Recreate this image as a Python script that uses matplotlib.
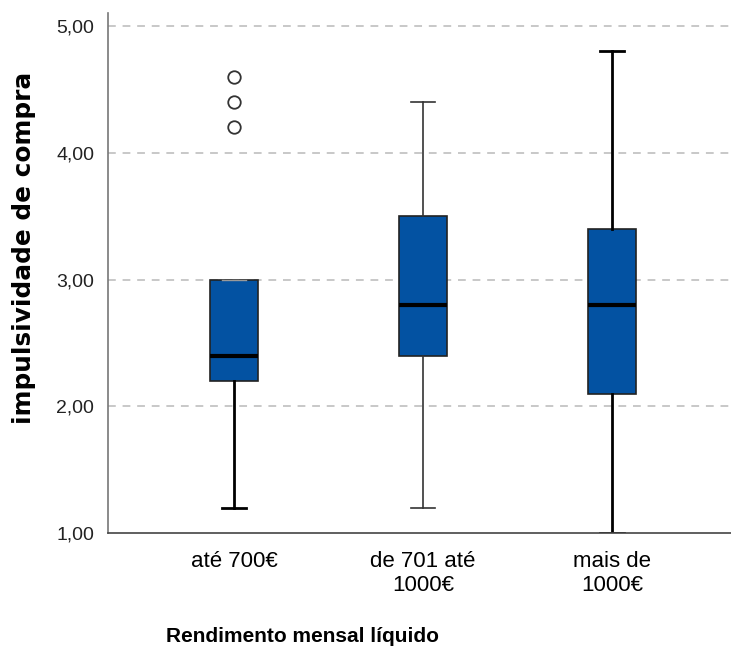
import matplotlib
matplotlib.use("Agg")
import matplotlib.pyplot as plt

categories = ["até 700€", "de 701 até\n1000€", "mais de\n1000€"]
q1 = [2.2, 2.4, 2.1]
medians = [2.4, 2.8, 2.8]
q3 = [3.0, 3.5, 3.4]
whisker_low = [1.2, 1.2, 1.0]
whisker_high = [3.0, 4.4, 4.8]
outliers = [[4.2, 4.4, 4.6], [], []]
yticks = [1, 2, 3, 4, 5]
ytick_labels = ["1,00", "2,00", "3,00", "4,00", "5,00"]

W, H = 731, 650
fig = plt.figure(figsize=(W / 100, H / 100), dpi=100)
ax = fig.add_axes([108 / W, 1 - 533 / H, 1 - 108 / W, (533 - 13) / H])

stats = []
for i, c in enumerate(categories):
    stats.append(dict(label=c, q1=q1[i], med=medians[i], q3=q3[i],
                      whislo=whisker_low[i], whishi=whisker_high[i], fliers=outliers[i]))

positions = [1, 2, 3]
res = ax.bxp(stats, positions=positions, widths=0.254, capwidths=0.127,
             patch_artist=True, showfliers=True,
             boxprops=dict(facecolor="#0352A2", edgecolor="#222222", linewidth=1.2),
             medianprops=dict(color="black", linewidth=3),
             whiskerprops=dict(color="black", linewidth=2),
             capprops=dict(color="black", linewidth=2),
             flierprops=dict(marker="o", markerfacecolor="white", markeredgecolor="#333333",
                             markersize=9, markeredgewidth=1.3))
# middle group drawn with thinner whiskers
for art in res["whiskers"][2:4] + res["caps"][2:4]:
    art.set_linewidth(1.2)
    art.set_color("#333333")
# zero-length upper whisker of the first group: faint cap only
res["caps"][1].set_linewidth(1.0)
res["caps"][1].set_color("#999999")

ax.set_xlim(0.333, 3.63)
ax.set_ylim(1, 5.103)
ax.set_xticks(positions)
ax.set_xticklabels(categories, fontfamily=["Liberation Sans", "DejaVu Sans"], fontsize=16,
                   linespacing=1.2)
ax.set_yticks(yticks)
ax.set_yticklabels(ytick_labels, fontfamily=["Liberation Sans", "DejaVu Sans"], fontsize=14,
                   color="#222222")
ax.tick_params(axis="x", length=0, pad=13)
ax.tick_params(axis="y", length=0, pad=10)

for y in yticks[1:]:
    ax.axhline(y, color="#c8c8c8", linewidth=1.4, linestyle=(0, (4, 3.5)), zorder=0)

for s in ["top", "right"]:
    ax.spines[s].set_visible(False)
ax.spines["left"].set_color("#777777")
ax.spines["left"].set_linewidth(1.2)
ax.spines["bottom"].set_color("#444444")
ax.spines["bottom"].set_linewidth(1.2)

fig.text(303 / W, 8 / H, "Rendimento mensal líquido", ha="center", va="baseline",
         fontsize=15, fontweight="bold",
         family=["Liberation Sans", "DejaVu Sans"])
fig.text(24 / W, 1 - 248 / H, "impulsividade de compra", ha="center", va="center",
         rotation=90, fontsize=17.8, fontweight="bold", family=["DejaVu Sans"])

fig.savefig("out.png", dpi=100)
